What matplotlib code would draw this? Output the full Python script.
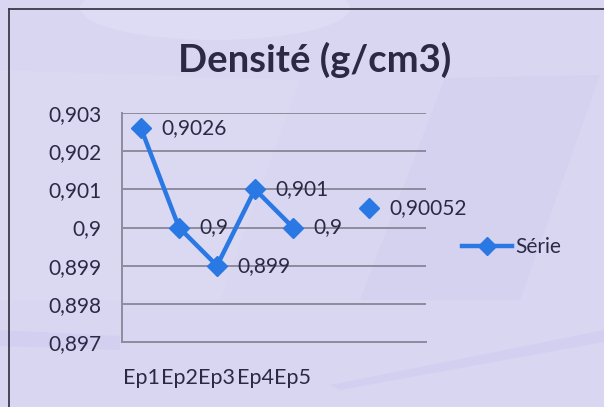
import matplotlib
matplotlib.use("Agg")
import matplotlib.pyplot as plt
from matplotlib.patches import Ellipse, Polygon
from matplotlib.lines import Line2D

# Data
categories = ["Ep1", "Ep2", "Ep3", "Ep4", "Ep5", "", "", ""]
serie_values = [0.9026, 0.900, 0.899, 0.901, 0.900]
mean_value = 0.90052
mean_position = 6
value_labels = ["0,9026", "0,9", "0,899", "0,901", "0,9"]
mean_label = "0,90052"
y_ticks = [0.897, 0.898, 0.899, 0.900, 0.901, 0.902, 0.903]
y_tick_labels = ["0,897", "0,898", "0,899", "0,9", "0,901", "0,902", "0,903"]
title = "Densité (g/cm3)"
legend_label = "Série"

BG = "#d9d6f1"
TEXT = "#2b2a45"
BLUE = "#2a78e4"
GRID = "#8d8b9e"
FONT = "Lato"

W, H = 604, 407
fig = plt.figure(figsize=(W / 100, H / 100), dpi=100)
fig.patch.set_facecolor(BG)

# faint background decorations (figure pixel coords, origin top-left)
bg = fig.add_axes([0, 0, 1, 1], zorder=0)
bg.set_xlim(0, W)
bg.set_ylim(H, 0)
bg.axis("off")
bg.add_patch(Ellipse((215, 8), 270, 64, color="#dedbf4", lw=0))
bg.add_patch(Polygon([(445, 78), (600, 75), (520, 300), (360, 300)],
                     closed=True, color="#d5d2f0", lw=0))
bg.add_patch(Polygon([(0, 70), (300, 80), (220, 300), (0, 300)],
                     closed=True, color="#dbd8f2", lw=0))
bg.add_patch(Polygon([(0, 330), (120, 336), (120, 350), (0, 346)],
                     closed=True, color="#d3cff0", lw=0))
bg.add_patch(Polygon([(330, 385), (604, 330), (604, 342), (340, 390)],
                     closed=True, color="#d3cff0", lw=0))
# chart frame
bg.plot([9, 9], [9, H], color="#3a3a4a", lw=1.3)
bg.plot([9, W], [9, 9], color="#3a3a4a", lw=1.3)

ax = fig.add_axes([122 / W, 1 - 342 / H, 304 / W, 229 / H], zorder=1)
ax.set_facecolor("none")
x = list(range(len(categories)))
ax.set_xlim(-0.5, len(categories) - 0.5)
ax.set_ylim(0.897, 0.903)

ax.set_yticks(y_ticks)
ax.set_yticklabels(y_tick_labels, fontsize=15, color=TEXT, family=FONT)
ax.set_xticks(x[:5])
ax.set_xticklabels(categories[:5], fontsize=15.5, color=TEXT, family=FONT)
ax.tick_params(axis="both", length=0)
ax.tick_params(axis="y", pad=15)
ax.tick_params(axis="x", pad=19)

ax.grid(axis="y", color=GRID, lw=1.4)
ax.set_axisbelow(True)
for side in ["top", "right"]:
    ax.spines[side].set_visible(False)
ax.spines["left"].set_color(GRID)
ax.spines["bottom"].set_color(GRID)
ax.spines["left"].set_linewidth(1.4)
ax.spines["bottom"].set_linewidth(1.4)

ax.plot(x[:5], serie_values, color=BLUE, lw=3.2, marker="D", ms=10,
        mec=BLUE, mfc=BLUE, zorder=3)
ax.plot([mean_position], [mean_value], ls="none", marker="D", ms=10,
        color=BLUE, zorder=3)

for xi, v, t in zip(x[:5], serie_values, value_labels):
    ax.annotate(t, (xi, v), xytext=(15, 0), textcoords="offset points",
                va="center", ha="left", fontsize=15, color=TEXT, family=FONT,
                zorder=4)
ax.annotate(mean_label, (mean_position, mean_value), xytext=(15, 0),
            textcoords="offset points", va="center", ha="left", fontsize=15,
            color=TEXT, family=FONT, zorder=4)

fig.text(315 / W, 1 - 60 / H, title, ha="center", va="center",
         fontsize=27.5, fontweight="bold", color=TEXT, family=FONT)

handle = Line2D([0], [0], color=BLUE, lw=3.2, marker="D", ms=9)
fig.legend([handle], [legend_label], loc="center left",
           bbox_to_anchor=(443 / W, 1 - 247 / H), frameon=False,
           prop={"family": FONT, "size": 15}, labelcolor=TEXT,
           handlelength=2.4, handletextpad=0.15)

fig.savefig("out.png", dpi=100, facecolor=BG)
